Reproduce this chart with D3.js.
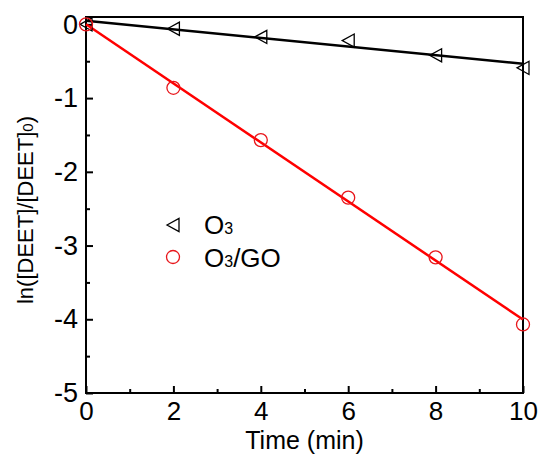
<!DOCTYPE html>
<html><head><meta charset="utf-8">
<script src="https://cdn.jsdelivr.net/npm/d3@7"></script>
<style>body{margin:0;background:#fff}svg{font-family:"Liberation Sans",Arial,sans-serif}</style>
</head><body>
<svg id="c" width="539" height="458"></svg>
<script>
const times = [0, 2, 4, 6, 8, 10];
const o3 = [0, -0.06, -0.17, -0.22, -0.42, -0.59];
const o3go = [0, -0.86, -1.57, -2.35, -3.16, -4.07];
const xTicks = [0, 2, 4, 6, 8, 10];
const yTicks = [0, -1, -2, -3, -4, -5];

const svg = d3.select("#c");
const L = 86, R = 523, T = 17, B = 393;
const x = d3.scaleLinear().domain([0, 10]).range([L, R]);
const y = d3.scaleLinear().domain([-5, 0.1]).range([B, T]);
const fmt = d => String(d).replace("\u2212", "-");

function fit(xs, ys) {
  const n = xs.length, mx = d3.mean(xs), my = d3.mean(ys);
  let sxy = 0, sxx = 0;
  for (let i = 0; i < n; i++) { sxy += (xs[i]-mx)*(ys[i]-my); sxx += (xs[i]-mx)**2; }
  const b = sxy / sxx; return {b, a: my - b*mx};
}

// frame
svg.append("rect").attr("x", L).attr("y", T).attr("width", R-L).attr("height", B-T)
  .attr("fill", "none").attr("stroke", "#000").attr("stroke-width", 2);

// x axis
const xa = svg.append("g").attr("transform", `translate(0,${B})`)
  .call(d3.axisBottom(x).tickValues(xTicks).tickSize(-7).tickPadding(9).tickFormat(fmt));
xa.select(".domain").remove();
xa.selectAll("line").attr("stroke-width", 2);
xa.selectAll("text").attr("font-size", 26).attr("fill", "#000").attr("font-family", "Liberation Sans, Arial, sans-serif");
svg.append("g").attr("transform", `translate(0,${B})`)
  .call(d3.axisBottom(x).tickValues([1,3,5,7,9]).tickSize(-4).tickFormat(""))
  .call(g => { g.select(".domain").remove(); g.selectAll("line").attr("stroke-width", 2); });

// y axis
const ya = svg.append("g").attr("transform", `translate(${L},0)`)
  .call(d3.axisLeft(y).tickValues(yTicks).tickSize(-7).tickPadding(8).tickFormat(fmt));
ya.select(".domain").remove();
ya.selectAll("line").attr("stroke-width", 2);
ya.selectAll("text").attr("font-size", 27).attr("fill", "#000").attr("font-family", "Liberation Sans, Arial, sans-serif");
svg.append("g").attr("transform", `translate(${L},0)`)
  .call(d3.axisLeft(y).tickValues([-0.5,-1.5,-2.5,-3.5,-4.5]).tickSize(-4).tickFormat(""))
  .call(g => { g.select(".domain").remove(); g.selectAll("line").attr("stroke-width", 2); });

// fit lines
function fitLine(ys, color) {
  const f = fit(times, ys);
  svg.append("line")
    .attr("x1", x(0)).attr("y1", y(f.a))
    .attr("x2", x(10)).attr("y2", y(f.a + f.b*10))
    .attr("stroke", color).attr("stroke-width", 2.5);
}
fitLine(o3, "#000");
fitLine(o3go, "#ff0000");

// markers
const tri = s => `M${-s*0.5},0 L${s*0.5},${-s*0.55} L${s*0.5},${s*0.55} Z`;
svg.append("g").selectAll("path").data(times).join("path")
  .attr("transform", (d,i) => `translate(${x(d)},${y(o3[i])})`)
  .attr("d", tri(12)).attr("fill", "none").attr("stroke", "#000").attr("stroke-width", 1.3);
svg.append("g").selectAll("circle").data(times).join("circle")
  .attr("cx", d => x(d)).attr("cy", (d,i) => y(o3go[i])).attr("r", 6.5)
  .attr("fill", "none").attr("stroke", "#e8161b").attr("stroke-width", 1.3);

// legend
svg.append("path").attr("transform", "translate(173,225)").attr("d", tri(12))
  .attr("fill", "none").attr("stroke", "#000").attr("stroke-width", 1.3);
svg.append("circle").attr("cx", 173).attr("cy", 257).attr("r", 6.5)
  .attr("fill", "none").attr("stroke", "#e8161b").attr("stroke-width", 1.3);
const t1 = svg.append("text").attr("x", 204).attr("y", 234).attr("font-size", 26);
t1.append("tspan").text("O");
t1.append("tspan").attr("font-size", 16).text("3");
const t2 = svg.append("text").attr("x", 204).attr("y", 267).attr("font-size", 26);
t2.append("tspan").text("O");
t2.append("tspan").attr("font-size", 16).text("3");
t2.append("tspan").text("/GO");

// axis titles
svg.append("text").attr("x", (L+R)/2).attr("y", 449).attr("text-anchor", "middle")
  .attr("font-size", 25).text("Time (min)");
const yt = svg.append("text").attr("transform", `translate(33,${(T+B)/2+5}) rotate(-90)`)
  .attr("text-anchor", "middle").attr("font-size", 22);
yt.append("tspan").text("ln([DEET]/[DEET]");
yt.append("tspan").attr("font-size", 15).text("0");
yt.append("tspan").text(")");
</script>
</body></html>
